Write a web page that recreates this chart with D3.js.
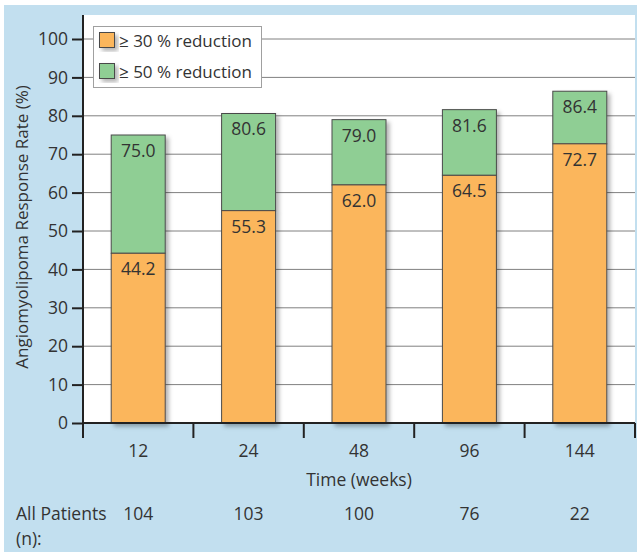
<!DOCTYPE html>
<html>
<head>
<meta charset="utf-8">
<script src="https://cdn.jsdelivr.net/npm/d3@7"></script>
<style>
  body { margin: 0; background: #fff; }
  text { font-family: "Open Sans", "Noto Sans", sans-serif; fill: #333; }
</style>
</head>
<body>
<svg id="chart" width="638" height="552"></svg>
<script>
// data
const weeks = ["12", "24", "48", "96", "144"];
const reduce30 = [44.2, 55.3, 62.0, 64.5, 72.7];   // orange segment top
const reduce50 = [75.0, 80.6, 79.0, 81.6, 86.4];   // green segment top
const patients = [104, 103, 100, 76, 22];
const yTicks = [0, 10, 20, 30, 40, 50, 60, 70, 80, 90, 100];
const legendLabels = ["\u2265 30 % reduction", "\u2265 50 % reduction"];

const ORANGE = "#fbb65c", GREEN = "#8fce94", EDGE = "#4a4a4a";

const svg = d3.select("#chart");
// light blue panel
svg.append("rect").attr("x", 4).attr("y", 5).attr("width", 633).attr("height", 547).attr("fill", "#c2dfef");

const L = 83, R = 635, T = 15, B = 423;
svg.append("rect").attr("x", L).attr("y", T).attr("width", R - L).attr("height", B - T).attr("fill", "#fff");

const defs = svg.append("defs");
defs.append("filter").attr("id", "shadow").attr("x", "-20%").attr("y", "-20%").attr("width", "150%").attr("height", "150%")
  .append("feDropShadow").attr("dx", 3).attr("dy", 3).attr("stdDeviation", 2)
  .attr("flood-color", "#000").attr("flood-opacity", 0.3);

const x = d3.scaleBand().domain(weeks).range([L, R]).paddingInner(0).paddingOuter(0);
const y = d3.scaleLinear().domain([0, 100]).range([B, 39]);
const bw = 54;

// grid
svg.append("g").selectAll("line").data(yTicks.filter(d => d > 0)).join("line")
  .attr("x1", L).attr("x2", R).attr("y1", d => y(d)).attr("y2", d => y(d))
  .attr("stroke", "#808080").attr("stroke-width", 1);

// bars
const bars = svg.append("g");
weeks.forEach((w, i) => {
  const cx = x(w) + x.bandwidth() / 2;
  const g = bars.append("g").attr("filter", "url(#shadow)");
  g.append("rect").attr("x", cx - bw / 2).attr("y", y(reduce50[i]))
    .attr("width", bw).attr("height", y(reduce30[i]) - y(reduce50[i]))
    .attr("fill", GREEN).attr("stroke", EDGE).attr("stroke-width", 1);
  g.append("rect").attr("x", cx - bw / 2).attr("y", y(reduce30[i]))
    .attr("width", bw).attr("height", y(0) - y(reduce30[i]))
    .attr("fill", ORANGE).attr("stroke", EDGE).attr("stroke-width", 1);
});
weeks.forEach((w, i) => {
  const cx = x(w) + x.bandwidth() / 2;
  [reduce50[i], reduce30[i]].forEach(v => {
    svg.append("text").attr("x", cx).attr("y", y(v) + 22)
      .attr("text-anchor", "middle").style("font-size", "17.5px").text(v.toFixed(1));
  });
});

// y axis
const yAxis = svg.append("g").attr("transform", `translate(${L},0)`)
  .call(d3.axisLeft(y).tickValues(yTicks).tickSize(11).tickPadding(4));
yAxis.select(".domain").remove();
yAxis.selectAll("line").attr("stroke", "#222").attr("stroke-width", 2);
yAxis.selectAll("text").style("font-size", "17.5px").attr("fill", "#333").attr("font-family", null);
svg.append("line").attr("x1", L).attr("x2", L).attr("y1", T).attr("y2", B + 1)
  .attr("stroke", "#222").attr("stroke-width", 2);

// x axis
svg.append("line").attr("x1", L - 1).attr("x2", R).attr("y1", B).attr("y2", B).attr("stroke", "#222").attr("stroke-width", 2);
const bounds = weeks.map(w => x(w)).concat([R]);
svg.append("g").selectAll("line").data(bounds).join("line")
  .attr("x1", d => d).attr("x2", d => d).attr("y1", B).attr("y2", B + 15)
  .attr("stroke", "#222").attr("stroke-width", 2);
svg.append("g").selectAll("text").data(weeks).join("text")
  .attr("x", d => x(d) + x.bandwidth() / 2).attr("y", 457)
  .attr("text-anchor", "middle").style("font-size", "17.5px").text(d => d);
svg.append("text").attr("x", 359).attr("y", 486).attr("text-anchor", "middle")
  .style("font-size", "17.5px").text("Time (weeks)");

// patients row
svg.append("text").attr("x", 16).attr("y", 520).style("font-size", "17.5px").text("All Patients");
svg.append("text").attr("x", 16).attr("y", 545).style("font-size", "17.5px").text("(n):");
svg.append("g").selectAll("text").data(patients).join("text")
  .attr("x", (d, i) => x(weeks[i]) + x.bandwidth() / 2).attr("y", 520)
  .attr("text-anchor", "middle").style("font-size", "17.5px").text(d => d);

// y label
svg.append("text").attr("transform", "translate(28,227) rotate(-90)")
  .attr("text-anchor", "middle").style("font-size", "17px")
  .text("Angiomyolipoma Response Rate (%)");

// legend
const lg = svg.append("g");
lg.append("rect").attr("x", 93.5).attr("y", 26.5).attr("width", 168).attr("height", 61)
  .attr("fill", "#fff").attr("stroke", "#a0a0a0");
[ORANGE, GREEN].forEach((c, i) => {
  lg.append("rect").attr("x", 99.5).attr("y", 32.5 + i * 31).attr("width", 15).attr("height", 15)
    .attr("fill", c).attr("stroke", EDGE).attr("filter", "url(#shadow)");
  lg.append("text").attr("x", 119).attr("y", 47 + i * 31).style("font-size", "17px").text(legendLabels[i]);
});
</script>
</body>
</html>
